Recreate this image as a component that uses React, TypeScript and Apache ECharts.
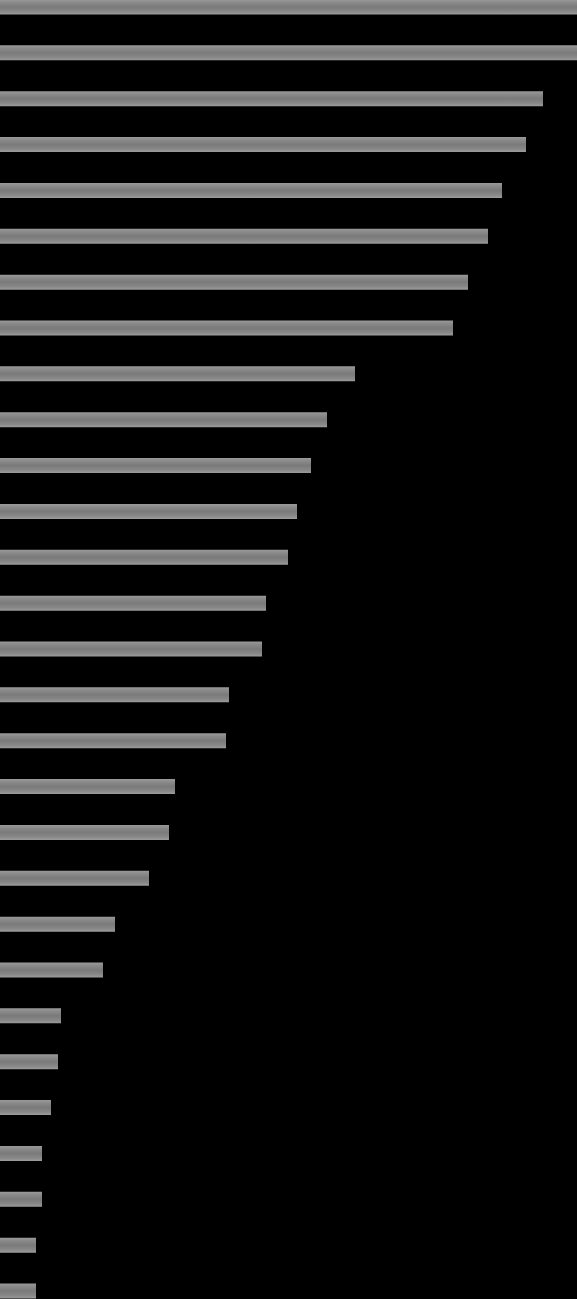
import React, { useEffect, useRef } from "react";
import * as echarts from "echarts";

const categories = [
  "1", "2", "3", "4", "5", "6", "7", "8", "9", "10",
  "11", "12", "13", "14", "15", "16", "17", "18", "19", "20",
  "21", "22", "23", "24", "25", "26", "27", "28", "29",
];

const values = [
  577, 577, 543, 526, 502, 488, 468, 453, 355, 327,
  311, 297, 288, 266, 262, 229, 226, 175, 169, 149,
  115, 103, 61, 58, 51, 42, 42, 36, 36,
];

const App: React.FC = () => {
  const chartRef = useRef<HTMLDivElement>(null);

  useEffect(() => {
    document.body.style.margin = "0";
    document.body.style.background = "#000";
    if (!chartRef.current) return;
    const chart = echarts.init(chartRef.current, undefined, { renderer: "svg" });

    chart.setOption({
      animation: false,
      backgroundColor: "#000000",
      grid: { left: 0, right: 0, top: 7, bottom: 8, containLabel: false },
      xAxis: {
        type: "value",
        min: 0,
        max: 577,
        show: false,
      },
      yAxis: {
        type: "category",
        data: categories,
        inverse: true,
        boundaryGap: false,
        show: false,
      },
      series: [
        {
          type: "bar",
          data: values,
          barWidth: 15,
          itemStyle: {
            color: new echarts.graphic.LinearGradient(0, 0, 0, 1, [
              { offset: 0, color: "#9a9a9a" },
              { offset: 0.2, color: "#8a8a8a" },
              { offset: 0.5, color: "#7a7a7a" },
              { offset: 0.8, color: "#888888" },
              { offset: 1, color: "#9c9c9c" },
            ]),
          },
        },
      ],
    });

    return () => {
      chart.dispose();
    };
  }, []);

  return <div ref={chartRef} style={{ width: 577, height: 1299 }} />;
};

export default App;
